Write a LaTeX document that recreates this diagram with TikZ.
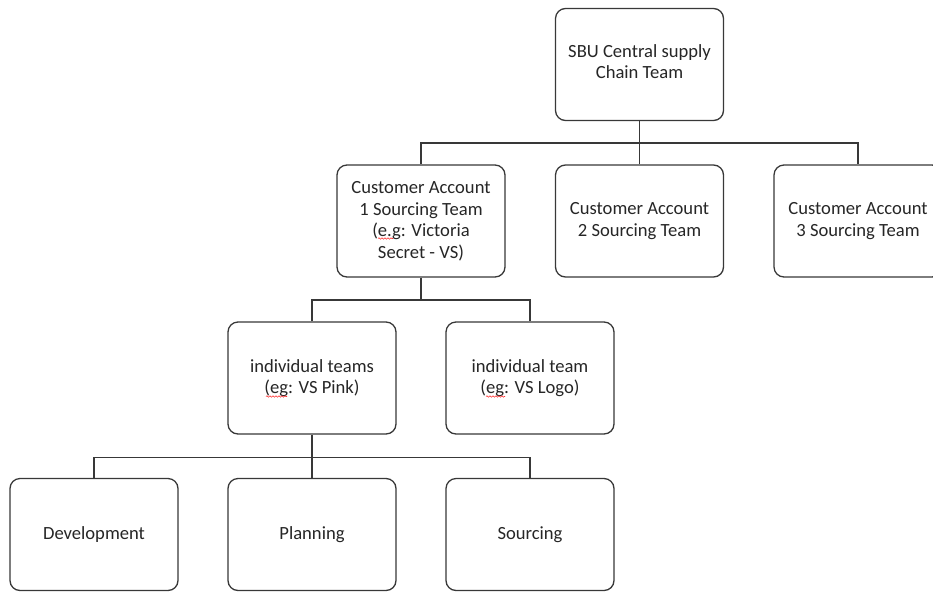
\documentclass[tikz,border=0pt]{standalone}
\usepackage{fontspec}
\setmainfont{Carlito}
\usetikzlibrary{decorations.pathmorphing}
\begin{document}
\begin{tikzpicture}[x=1pt,y=-1pt,
  unitbox/.style={draw=black!78, line width=1.3pt, rounded corners=10pt,
    minimum width=168pt, minimum height=112pt, inner sep=0pt,
    align=center, text=black!85,
    font=\fontsize{18.6}{21.5}\selectfont},
  link/.style={draw=black!78, line width=1.3pt},
  spell/.style={draw=red!80, line width=0.6pt,
    decorate, decoration={snake, amplitude=0.7pt, segment length=3pt}}]
  \useasboundingbox (0,0) rectangle (933,592);
  \clip (0,0) rectangle (933,592);

  % top level
  \node[unitbox] (sbu) at (639.5,64.5) {};
  \node[align=center, text=black!85, font=\fontsize{18.6}{21.5}\selectfont]
    (sbutext) at (639.5,61.5) {SBU Central supply\\Chain Team};

  % customer accounts
  \node[unitbox] (ca1) at (421,221) {Customer Account\\1 Sourcing Team\\(e.g: Victoria\\Secret - VS)};
  \node[unitbox] (ca2) at (639.5,221) {Customer Account\\2 Sourcing Team};
  \node[unitbox] (ca3) at (858,221) {Customer Account\\3 Sourcing Team};

  % individual teams
  \node[unitbox] (it1) at (312,378) {individual teams\\(eg: VS Pink)};
  \node[unitbox] (it2) at (530,378) {individual team\\(eg: VS Logo)};

  % functions
  \node[unitbox] (dev)  at (94,534.5)  {Development};
  \node[unitbox] (plan) at (312,534.5) {Planning};
  \node[unitbox] (src)  at (530,534.5) {Sourcing};

  % bus lines between levels
  \coordinate (busA) at (0,143);
  \coordinate (busB) at (0,300);
  \coordinate (busC) at (0,457.5);

  \draw[link] (sbu.south) -- (sbu.south |- busA);
  \draw[link] (ca1.north) -- (ca1.north |- busA) -- (ca3.north |- busA) -- (ca3.north);
  \draw[link] (ca2.north) -- (ca2.north |- busA);

  \draw[link] (ca1.south) -- (ca1.south |- busB);
  \draw[link] (it1.north) -- (it1.north |- busB) -- (it2.north |- busB) -- (it2.north);

  \draw[link] (it1.south) -- (plan.north);
  \draw[link] (dev.north) -- (dev.north |- busC) -- (src.north |- busC) -- (src.north);

  % spelling marks under the abbreviations
  \draw[spell] (378,238.5) -- (393,238.5);
  \draw[spell] (266,396.5) -- (287,396.5);
  \draw[spell] (486,396.5) -- (505,396.5);
\end{tikzpicture}
\end{document}
